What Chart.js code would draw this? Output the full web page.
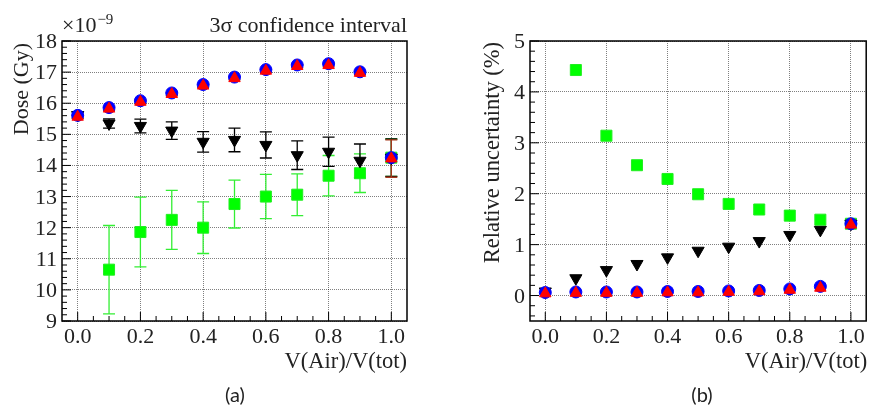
<!DOCTYPE html>
<html>
<head>
<meta charset="utf-8">
<script src="https://cdn.jsdelivr.net/npm/chart.js@4.4.0/dist/chart.umd.min.js"></script>
<style>
  body { margin: 0; background: #fff; width: 875px; height: 408px; position: relative; overflow: hidden; }
  canvas { position: absolute; top: 0; }
  #doseChart { left: 0; }
  #uncChart { left: 440px; }
  .caption { position: absolute; top: 382px; font-family: Lato, sans-serif; font-size: 20px; line-height: 24px; color: #222; transform: translateX(-50%); }
</style>
</head>
<body>
<canvas id="doseChart" width="440" height="408"></canvas>
<canvas id="uncChart" width="435" height="408"></canvas>
<div class="caption" style="left:235px">(a)</div>
<div class="caption" style="left:702px">(b)</div>
<script>
// V(Air)/V(tot)
const airFraction = [0.0, 0.1, 0.2, 0.3, 0.4, 0.5, 0.6, 0.7, 0.8, 0.9, 1.0];

// (a) dose, x 1e-9 Gy, with 3 sigma errors
const doseBlue = [15.61, 15.86, 16.08, 16.33, 16.6, 16.84, 17.08, 17.23, 17.27, 17.01, 14.25];
const doseRed = [15.56, 15.82, 16.04, 16.29, 16.56, 16.8, 17.04, 17.19, 17.22, 16.97, 14.22];
const doseBlack = [15.62, 15.35, 15.27, 15.12, 14.76, 14.82, 14.66, 14.33, 14.44, 14.15, 14.25];
const doseGreen = [null, 10.65, 11.86, 12.25, 12.0, 12.76, 13.0, 13.06, 13.67, 13.75, 14.25];
const doseRedErr = [0.05, 0.05, 0.05, 0.05, 0.05, 0.05, 0.05, 0.05, 0.05, 0.05, 0.6];
const doseBlackErr = [0.1, 0.15, 0.22, 0.28, 0.33, 0.38, 0.42, 0.46, 0.47, 0.54, 0.6];
const doseGreenErr = [null, 1.42, 1.12, 0.95, 0.83, 0.77, 0.71, 0.67, 0.65, 0.62, 0.6];

// (b) relative uncertainty, %
const uncBlue = [0.06, 0.07, 0.07, 0.07, 0.08, 0.08, 0.09, 0.1, 0.13, 0.18, 1.41];
const uncRed = [0.04, 0.05, 0.05, 0.05, 0.06, 0.06, 0.07, 0.08, 0.11, 0.15, 1.39];
const uncBlack = [0.08, 0.34, 0.5, 0.62, 0.75, 0.88, 0.96, 1.07, 1.19, 1.29, 1.41];
const uncGreen = [null, 4.43, 3.14, 2.56, 2.29, 1.99, 1.8, 1.69, 1.57, 1.49, 1.41];

// tick positions (major ones get a label, the rest are minor)
const xTickValues = Array.from({ length: 21 }, (_, i) => Math.round(i * 5) / 100);
const doseTickValues = Array.from({ length: 46 }, (_, i) => Math.round((9 + i * 0.2) * 10) / 10);
const uncTickValues = Array.from({ length: 28 }, (_, i) => Math.round((-0.4 + i * 0.2) * 10) / 10);

const serif = "Liberation Serif, Times New Roman, serif";
const textColor = "#222";
const gridColor = "rgba(0,0,0,0.5)";

const toPoints = (vals) => airFraction.map((x, i) => ({ x, y: vals[i] }));

function isWhole(v, step) {
  return Math.abs(v / step - Math.round(v / step)) < 1e-6;
}

function drawText(ctx, text, x, y, size, align, rotate) {
  ctx.save();
  ctx.translate(x, y);
  if (rotate) ctx.rotate(-Math.PI / 2);
  ctx.font = size + "px " + serif;
  ctx.fillStyle = textColor;
  ctx.textAlign = align;
  ctx.textBaseline = "alphabetic";
  ctx.fillText(text, 0, 0);
  ctx.restore();
}

// error bars under the markers, inward ticks, tick labels and the closed frame
const rootStyle = {
  id: "rootStyle",
  beforeDatasetsDraw(chart) {
    const { ctx, scales: { x, y } } = chart;
    ctx.save();
    ctx.lineWidth = 1.3;
    chart.data.datasets.slice().reverse().forEach((ds) => {
      if (!ds.errors) return;
      ctx.strokeStyle = ds.errorColor || ds.backgroundColor;
      ds.data.forEach((p, i) => {
        const e = ds.errors[i];
        if (p.y == null || e == null) return;
        const px = x.getPixelForValue(p.x);
        const top = y.getPixelForValue(p.y + e);
        const bot = y.getPixelForValue(p.y - e);
        ctx.beginPath();
        ctx.moveTo(px, top);
        ctx.lineTo(px, bot);
        ctx.moveTo(px - 6, top);
        ctx.lineTo(px + 6, top);
        ctx.moveTo(px - 6, bot);
        ctx.lineTo(px + 6, bot);
        ctx.stroke();
      });
    });
    ctx.restore();
  },
  afterDraw(chart) {
    const { ctx, chartArea: a, scales: { x, y } } = chart;
    ctx.save();
    ctx.strokeStyle = "#000";
    ctx.lineWidth = 1;
    ctx.beginPath();
    x.ticks.forEach((t) => {
      const px = x.getPixelForValue(t.value);
      ctx.moveTo(px, a.bottom);
      ctx.lineTo(px, a.bottom - (t.label !== "" ? 9 : 5));
    });
    y.ticks.forEach((t) => {
      const py = y.getPixelForValue(t.value);
      ctx.moveTo(a.left, py);
      ctx.lineTo(a.left + (t.label !== "" ? 9 : 5), py);
    });
    ctx.stroke();
    ctx.lineWidth = 1.5;
    ctx.strokeRect(a.left, a.top, a.right - a.left, a.bottom - a.top);
    ctx.restore();

    // labels of the major ticks
    x.ticks.forEach((t) => {
      if (t.label !== "") drawText(ctx, t.label, x.getPixelForValue(t.value), a.bottom + 22, 22, "center");
    });
    y.ticks.forEach((t) => {
      if (t.label !== "") drawText(ctx, t.label, a.left - 5, y.getPixelForValue(t.value) + 7, 22, "right");
    });
  },
};

function xScale() {
  return {
    type: "linear",
    min: -0.05,
    max: 1.05,
    afterBuildTicks: (s) => { s.ticks = xTickValues.map((v) => ({ value: v })); },
    afterFit: (s) => { s.height = 87; },
    ticks: {
      display: false,
      autoSkip: false,
      maxRotation: 0,
      callback: (v) => (isWhole(v, 0.2) ? v.toFixed(1) : ""),
    },
    grid: {
      drawTicks: false,
      color: (c) => (c.tick && isWhole(c.tick.value, 0.2) ? gridColor : "transparent"),
    },
    border: { display: false, dash: [1, 1] },
  };
}

function yScale(min, max, tickValues, width) {
  return {
    type: "linear",
    min: min,
    max: max,
    afterBuildTicks: (s) => { s.ticks = tickValues.map((v) => ({ value: v })); },
    afterFit: (s) => { s.width = width; },
    ticks: {
      display: false,
      autoSkip: false,
      callback: (v) => (isWhole(v, 1) && v >= 0 ? String(Math.round(v)) : ""),
    },
    grid: {
      drawTicks: false,
      color: (c) => (c.tick && isWhole(c.tick.value, 1) && c.tick.value >= 0 ? gridColor : "transparent"),
    },
    border: { display: false, dash: [1, 1] },
  };
}

function series(red, blue, black, green, errs) {
  const base = { pointBorderWidth: 1, showLine: false };
  return [
    { ...base, label: "red", data: toPoints(red), pointStyle: "triangle", pointRadius: 6.6,
      backgroundColor: "#ff0000", borderColor: "#ff0000", errors: errs && errs[0], errorColor: "#a83a1c" },
    { ...base, label: "blue", data: toPoints(blue), pointStyle: "circle", pointRadius: 6,
      backgroundColor: "#0000ff", borderColor: "#0000ff" },
    { ...base, label: "black", data: toPoints(black), pointStyle: "triangle", pointRotation: 180, pointRadius: 7,
      backgroundColor: "#000000", borderColor: "#000000", errors: errs && errs[1] },
    { ...base, label: "green", data: toPoints(green), pointStyle: "rect", pointRadius: 7.8,
      backgroundColor: "#00ff00", borderColor: "#22ee22", errors: errs && errs[2], errorColor: "#33ee33" },
  ];
}

const doseLabels = {
  id: "doseLabels",
  afterDraw(chart) {
    const { ctx, chartArea: a } = chart;
    drawText(ctx, "V(Air)/V(tot)", a.right, 368, 22.5, "right");
    drawText(ctx, "3σ confidence interval", a.right, 32, 22, "right");
    drawText(ctx, "×10", a.left, 32, 22, "left");
    ctx.font = "22px " + serif;
    const w = ctx.measureText("×10").width;
    drawText(ctx, "−9", a.left + w + 1, 24, 15, "left");
    drawText(ctx, "Dose (Gy)", 28, a.top + 2, 22, "right", true);
  },
};

const uncLabels = {
  id: "uncLabels",
  afterDraw(chart) {
    const { ctx, chartArea: a } = chart;
    drawText(ctx, "V(Air)/V(tot)", a.right + 1, 368, 22.5, "right");
    drawText(ctx, "Relative uncertainty (%)", 59, a.top + 1, 22.5, "right", true);
  },
};

const common = {
  responsive: false,
  animation: false,
  events: [],
  plugins: { legend: { display: false }, tooltip: { enabled: false } },
};

new Chart(document.getElementById("doseChart"), {
  type: "scatter",
  data: { datasets: series(doseRed, doseBlue, doseBlack, doseGreen, [doseRedErr, doseBlackErr, doseGreenErr]) },
  options: {
    ...common,
    layout: { padding: { top: 41, right: 33, bottom: 0, left: 0 } },
    scales: { x: xScale(), y: yScale(9, 18, doseTickValues, 62) },
  },
  plugins: [rootStyle, doseLabels],
});

new Chart(document.getElementById("uncChart"), {
  type: "scatter",
  data: { datasets: series(uncRed, uncBlue, uncBlack, uncGreen, null) },
  options: {
    ...common,
    layout: { padding: { top: 41, right: 1, bottom: 0, left: 0 } },
    scales: { x: xScale(), y: yScale(-0.5, 5, uncTickValues, 90) },
  },
  plugins: [rootStyle, uncLabels],
});
</script>
</body>
</html>
